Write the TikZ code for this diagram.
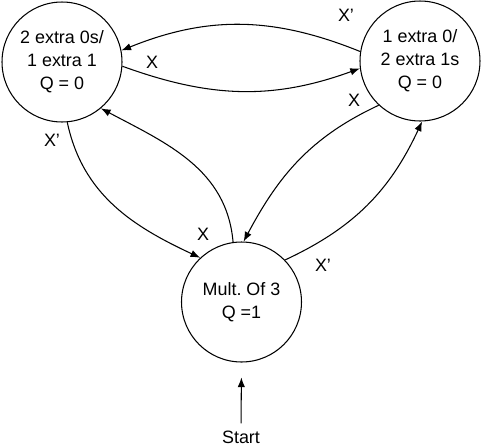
\documentclass[tikz,border=0pt]{standalone}
\usepackage{fontspec}
\setmainfont{Liberation Sans}
\usepackage{tikz}
\usetikzlibrary{arrows.meta}
\frenchspacing

\begin{document}
\begin{tikzpicture}[
        x=0.02cm, y=-0.02cm,
        font=\fontsize{10.2pt}{13pt}\selectfont,
        trans arrow/.style={
        arrows = {-Latex[length=5.5pt,width=4.2pt]},
        semithick
        },
        state/.style={
                circle,
                draw,
                semithick,
                minimum size=2.4cm,
                inner sep=0pt,
                align=center
            },
        label/.style={
                inner sep=0pt
            }]
        \useasboundingbox (0,0) rectangle (481,447);

        \node [state] (zeros) at (62, 62) {2 extra 0s/\\1 extra 1\\Q = 0};
        \node [state] (ones) at (420, 61) {1 extra 0/\\2 extra 1s\\Q = 0};
        \node [state] (mult) at (241.5, 302) {Mult. Of 3\\Q =1};
        \node [label] (start) at (241, 437) {Start};

        \node [label] at (346, 15) {X’};
        \node [label] at (152, 62) {X};
        \node [label] at (52, 140) {X’};
        \node [label] at (203, 234) {X};
        \node [label] at (354, 100) {X};
        \node [label] at (323, 265) {X’};

        \draw [trans arrow] (ones.171) to [out=158,in=22] (zeros.11);
        \draw [trans arrow] (zeros.-4) to [out=-20,in=200] (ones.187);
        \draw [trans arrow] (zeros.-85) to [out=-78,in=155] (mult.133);
        \draw [trans arrow] (mult.98) to [out=95,in=-28] (zeros.-50);
        \draw [trans arrow] (ones.227) to [out=205,in=62] (mult.88);
        \draw [trans arrow] (mult.44) to [out=25,in=-115] (ones.-88);
        \draw [trans arrow] [shorten <=4pt, shorten >=8.5pt] (start.north) -- (mult.south);
    \end{tikzpicture}
\end{document}
